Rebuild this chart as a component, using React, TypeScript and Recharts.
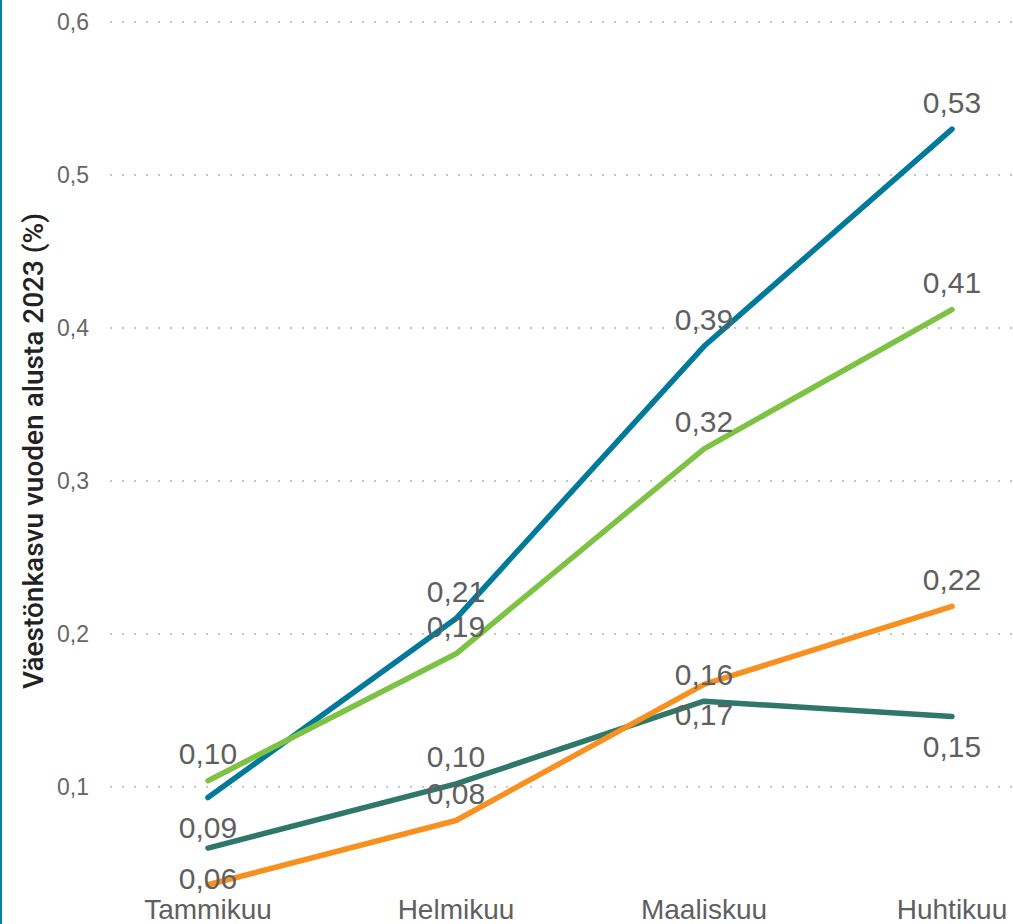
import React from "react";
import {
  LineChart,
  Line,
  XAxis,
  YAxis,
  CartesianGrid,
  LabelList,
} from "recharts";

const months = ["Tammikuu", "Helmikuu", "Maaliskuu", "Huhtikuu"];

const blueValues = [0.093, 0.21, 0.388, 0.53];
const greenValues = [0.104, 0.187, 0.321, 0.412];
const darkGreenValues = [0.06, 0.102, 0.156, 0.146];
const orangeValues = [0.036, 0.078, 0.167, 0.218];

// where each value label sits relative to its point
const bluePos = ["bottom", "top", "top", "top"];
const greenPos = ["top", "top", "top", "top"];
const darkGreenPos = ["bottom", "top", "top", "bottom"];
const orangePos = ["none", "top", "bottom", "top"];

const yTicks = [0.1, 0.2, 0.3, 0.4, 0.5, 0.6];

const data = months.map((m, i) => ({
  month: m,
  blue: blueValues[i],
  green: greenValues[i],
  darkGreen: darkGreenValues[i],
  orange: orangeValues[i],
}));

const fmt = (v: number, digits: number) => v.toFixed(digits).replace(".", ",");

function makeLabel(positions: string[]) {
  return (props: any) => {
    const { x, y, value, index } = props;
    const pos = positions[index];
    if (pos === "none") return null;
    const cy = pos === "top" ? y - 27 : y + 30;
    return (
      <text
        x={x}
        y={cy}
        dy="0.35em"
        textAnchor="middle"
        fontSize={30}
        fill="#5f5f5f"
        fontFamily="'Liberation Sans', Arial, sans-serif"
      >
        {fmt(Number(value), 2)}
      </text>
    );
  };
}

const YTitle = () => {
  const cy = 451;
  return (
    <text
      x={31}
      y={cy}
      transform={`rotate(-90, 31, ${cy})`}
      textAnchor="middle"
      dominantBaseline="central"
      fontSize={28}
      fontWeight={500}
      fill="#222"
      fontFamily="Roboto, 'Noto Sans', sans-serif"
    >
      Väestönkasvu vuoden alusta 2023 (%)
    </text>
  );
};

const series = [
  { key: "blue", color: "#00799b", pos: bluePos },
  { key: "darkGreen", color: "#2f776a", pos: darkGreenPos },
  { key: "orange", color: "#f8901f", pos: orangePos },
  { key: "green", color: "#7dc243", pos: greenPos },
];

export default function App() {
  return (
    <div
      style={{
        position: "absolute",
        left: 0,
        top: 0,
        width: 1013,
        height: 924,
        background: "#fff",
        borderLeft: "2px solid #0a80a4",
        boxSizing: "border-box",
        overflow: "hidden",
      }}
    >
      <LineChart
        width={1011}
        height={924}
        data={data}
        margin={{ top: 22, right: 0, left: 0, bottom: 0 }}
      >
        <CartesianGrid
          vertical={false}
          horizontalValues={yTicks}
          stroke="#c4c4c4"
          strokeWidth={2}
          strokeDasharray="2 10"
        />
        <XAxis
          dataKey="month"
          axisLine={false}
          tickLine={false}
          tickSize={0}
          tickMargin={2}
          height={27}
          padding={{ left: 98, right: 61 }}
          interval={0}
          tick={{
            fontSize: 28,
            fill: "#5f5f5f",
            fontFamily: "'Liberation Sans', Arial, sans-serif",
          }}
        />
        <YAxis
          type="number"
          domain={[0.028, 0.6]}
          ticks={yTicks}
          allowDataOverflow
          width={108}
          axisLine={false}
          tickLine={false}
          tickSize={0}
          tickMargin={21}
          tickFormatter={(v: number) => fmt(v, 1)}
          tick={{
            fontSize: 23,
            fill: "#666",
            fontFamily: "'Liberation Sans', Arial, sans-serif",
          }}
          label={<YTitle />}
        />
        {series.map((s) => (
          <Line
            key={s.key}
            type="linear"
            dataKey={s.key}
            stroke={s.color}
            strokeWidth={5.5}
            strokeLinecap="round"
            strokeLinejoin="round"
            dot={false}
            activeDot={false}
            isAnimationActive={false}
          >
            <LabelList dataKey={s.key} content={makeLabel(s.pos)} />
          </Line>
        ))}
      </LineChart>
    </div>
  );
}
